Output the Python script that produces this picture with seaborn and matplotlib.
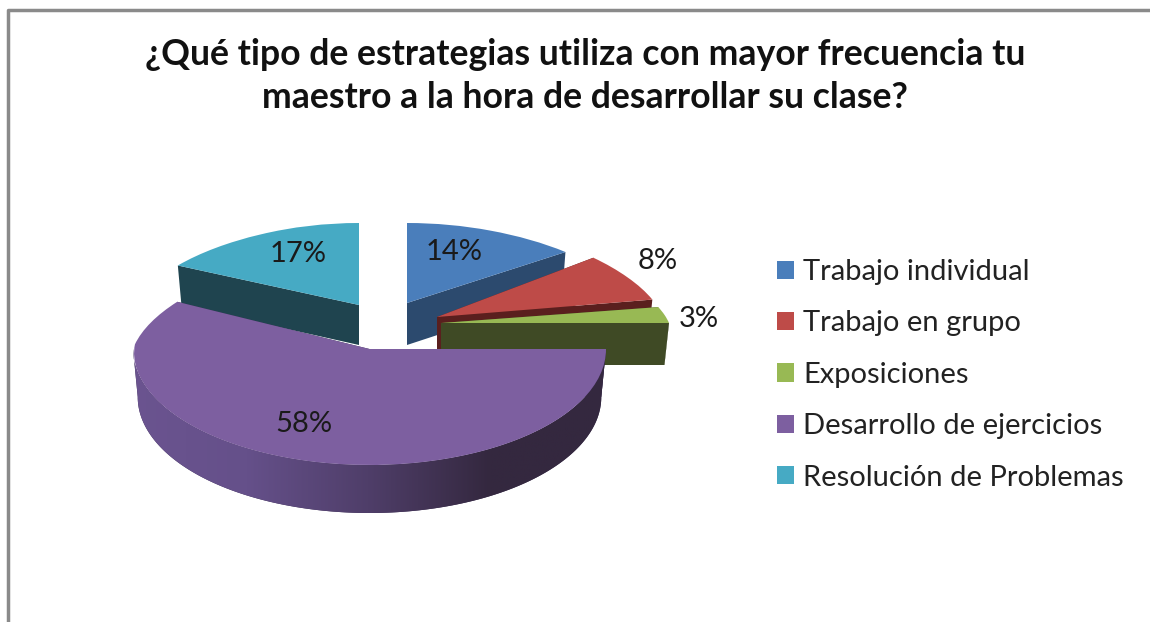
import numpy as np
import matplotlib
matplotlib.use('Agg')
import matplotlib.pyplot as plt
import seaborn as sns
from matplotlib.colors import LinearSegmentedColormap
from matplotlib.patches import Polygon
from matplotlib.transforms import Transform

# Datos
categorias = ['Trabajo individual', 'Trabajo en grupo', 'Exposiciones',
              'Desarrollo de ejercicios', 'Resolución de Problemas']
valores = [14, 8, 3, 58, 17]
titulo = '¿Qué tipo de estrategias utiliza con mayor frecuencia tu\nmaestro a la hora de desarrollar su clase?'

colores = ['#4a7ebb', '#be4b48', '#98b954', '#7d5fa0', '#46aac4']
paredes = ['#2c4a6e', '#5a1f1e', '#3f4a25', '#3a2d50', '#1f444f']

# centro de cada porcion (pixeles), radios: x, y frente, y fondo, perspectiva
geometria = [
    (407, 303, 229, 80, 80, 0.16),
    (437, 317, 226, 93, 93, 0.16),
    (441, 323, 228, 85, 85, 0.16),
    (369.5, 349, 236.5, 116, 98, 0.15),
    (359, 305, 224, 82, 82, 0.16),
]
profundidad = [42, 42, 42, 48, 40]
encoge = 0.98
pos_pct = [(454, 252), (658, 261), (699, 319), (304, 424), (298, 254)]


class Proyeccion(Transform):
    # pasa el circulo unitario del pie a la elipse en perspectiva
    input_dims = output_dims = 2

    def __init__(self, cx, cy, rx, ry_f, ry_b, k):
        super().__init__()
        self.g = (cx, cy, rx, ry_f, ry_b, k)

    def transform_non_affine(self, pts):
        cx, cy, rx, ry_f, ry_b, k = self.g
        pts = np.asarray(pts, dtype=float)
        x, y = pts[:, 0], pts[:, 1]
        xx = cx + x * rx * (1 - k * np.clip(y, 0, None))
        yy = cy - y * np.where(y > 0, ry_b, ry_f)
        return np.column_stack([xx, yy])


sns.set_theme(style='white')
plt.rcParams['font.family'] = ['Lato', 'DejaVu Sans']

fig = plt.figure(figsize=(11.5, 6.22), dpi=100)
ax = fig.add_axes([0, 0, 1, 1])

wedges, _ = ax.pie(valores, colors=colores, startangle=90, counterclock=False,
                   radius=1, wedgeprops={'linewidth': 0})
ax.set_aspect('auto')
ax.set_xlim(0, 1150)
ax.set_ylim(622, 0)
ax.axis('off')


def baja(p, cx, d):
    # cara inferior: un poco mas estrecha por la perspectiva
    q = np.array(p, dtype=float)
    q[:, 0] = cx + (q[:, 0] - cx) * encoge
    q[:, 1] += d
    return q


orden = [4, 0, 1, 2, 3]
for z, i in enumerate(orden):
    w = wedges[i]
    proy = Proyeccion(*geometria[i])
    w.set_transform(proy + ax.transData)
    w.set_zorder(2 * z + 3)

    t1, t2 = sorted([w.theta1, w.theta2])
    d = profundidad[i]
    cx = geometria[i][0]

    # paredes rectas
    for t in (t1, t2):
        p = proy.transform(np.array([[0, 0], [np.cos(np.radians(t)), np.sin(np.radians(t))]]))
        ax.add_patch(Polygon(np.vstack([p, baja(p, cx, d)[::-1]]), closed=True,
                             fc=paredes[i], ec='none', zorder=2 * z + 2))

    # borde exterior, solo la parte de delante
    ang = np.radians(np.linspace(t1, t2, 400))
    ang = ang[np.sin(ang) <= 0.005]
    if len(ang) == 0:
        continue
    arco = proy.transform(np.column_stack([np.cos(ang), np.sin(ang)]))
    borde = np.vstack([arco, baja(arco, cx, d)[::-1]])
    pol = Polygon(borde, closed=True, fc=paredes[i], ec='none', zorder=2 * z + 2)
    ax.add_patch(pol)
    cmap = LinearSegmentedColormap.from_list('rim', ['#6b5490', '#65508a', '#4f3e69', '#34283f', '#34283f'])
    im = ax.imshow(np.linspace(0, 1, 256)[None, :], cmap=cmap, aspect='auto',
                   extent=(125, 612, 520, 340), zorder=2 * z + 2.5)
    im.set_clip_path(pol)
ax.set_xlim(0, 1150)
ax.set_ylim(622, 0)

# etiquetas de porcentaje
for v, (x, y) in zip(valores, pos_pct):
    ax.text(x, y, f'{v}%', fontsize=21, color='#1a1a1a', ha='center', va='center', zorder=20)

# titulo
ax.text(585, 76, titulo, fontsize=25.7, fontweight='bold', color='#111111', ha='center',
        va='center', linespacing=1.4, zorder=20)

# leyenda
ax.legend(wedges, categorias, loc='upper left', bbox_to_anchor=(777, 259),
          bbox_transform=ax.transData, frameon=False, fontsize=21, labelcolor='#222222',
          handlelength=0.58, handleheight=0.58, handletextpad=0.31, labelspacing=0.87,
          borderpad=0, borderaxespad=0)

# marco de la imagen
ax.plot([8, 8, 1150], [622, 10, 10], color='#8a8a8a', lw=2.5, zorder=21, clip_on=False)

fig.savefig('out.png', dpi=100)
